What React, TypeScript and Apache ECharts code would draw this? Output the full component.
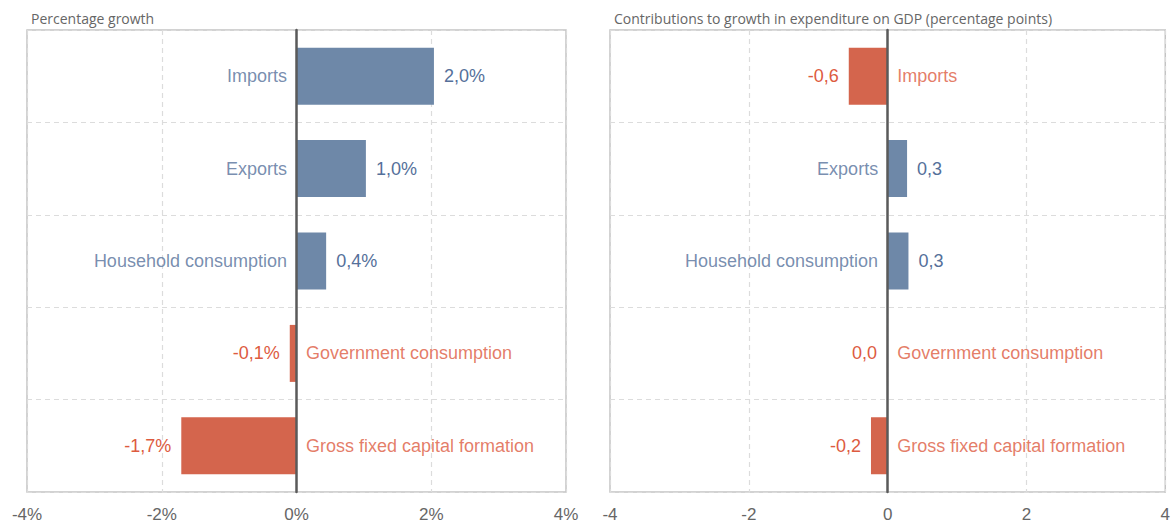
import React, { useEffect, useRef } from "react";
import * as echarts from "echarts";

const categories = [
  "Imports",
  "Exports",
  "Household consumption",
  "Government consumption",
  "Gross fixed capital formation",
];
const growthValues = [2.04, 1.03, 0.44, -0.1, -1.71];
const contributionValues = [-0.56, 0.28, 0.3, -0.01, -0.24];
const leftTicks = ["-4%", "-2%", "0%", "2%", "4%"];
const rightTicks = ["-4", "-2", "0", "2", "4"];
const leftTitle = "Percentage growth";
const rightTitle = "Contributions to growth in expenditure on GDP (percentage points)";

const BLUE = "#6e88a8";
const RED = "#d4654d";
const BLUE_TEXT = "#55709a";
const RED_TEXT = "#dd5b3f";
const FONT = "'Liberation Sans', Arial, sans-serif";

const fmt = (v: number, suffix: string) => {
  let r = Math.round(v * 10) / 10;
  if (r === 0) r = 0;
  return r.toFixed(1).replace(".", ",") + suffix;
};

function buildSeries(values: number[], idx: number, suffix: string) {
  const bars = {
    type: "bar",
    xAxisIndex: idx,
    yAxisIndex: idx,
    barWidth: 57,
    data: values.map((v) => ({
      value: v,
      itemStyle: { color: v >= 0 ? BLUE : RED },
      label: {
        show: true,
        position: v >= 0 ? "right" : "left",
        distance: 10,
        color: v >= 0 ? BLUE_TEXT : RED_TEXT,
        fontSize: 18,
        fontFamily: FONT,
        formatter: () => fmt(v, suffix),
      },
    })),
  };
  const names = {
    type: "scatter",
    xAxisIndex: idx,
    yAxisIndex: idx,
    symbolSize: 1,
    itemStyle: { color: "transparent" },
    silent: true,
    z: 5,
    data: values.map((v, i) => ({
      value: [0, categories[i]],
      label: {
        show: true,
        position: v >= 0 ? "left" : "right",
        distance: 9,
        color: v >= 0 ? BLUE_TEXT : RED_TEXT,
        fontSize: 18,
        fontFamily: FONT,
        formatter: categories[i],
      },
    })),
  };
  return [bars, names];
}

function xAxis(idx: number, ticks: string[]) {
  return {
    type: "value",
    gridIndex: idx,
    min: -4,
    max: 4,
    interval: 2,
    axisLine: { show: false },
    axisTick: { show: false },
    axisLabel: {
      color: "#666666",
      fontSize: 17,
      fontFamily: FONT,
      margin: 14,
      formatter: (val: number) => ticks[Math.round((val + 4) / 2)],
    },
    splitLine: { show: true, lineStyle: { color: "#dcdcdc", type: [5, 4], width: 1.2 } },
  };
}

function yAxis(idx: number) {
  return {
    type: "category",
    gridIndex: idx,
    data: categories,
    inverse: true,
    axisLine: { show: true, onZero: true, lineStyle: { color: "#5a5a5a", width: 2.5 } },
    axisTick: { show: false },
    axisLabel: { show: false },
    splitLine: { show: true, lineStyle: { color: "#dcdcdc", type: [5, 4], width: 1.2 } },
    z: 10,
  };
}

export default function App() {
  const ref = useRef<HTMLDivElement>(null);
  useEffect(() => {
    document.body.style.margin = "0";
    const chart = echarts.init(ref.current!, null, { renderer: "svg" });
    chart.setOption({
      animation: false,
      backgroundColor: "#ffffff",
      title: [
        {
          text: leftTitle,
          left: 26,
          top: 6,
          textStyle: { color: "#666", fontSize: 14, fontWeight: "normal", fontFamily: "'Open Sans', sans-serif" },
        },
        {
          text: rightTitle,
          left: 609,
          top: 6,
          textStyle: { color: "#666", fontSize: 14, fontWeight: "normal", fontFamily: "'Open Sans', sans-serif" },
        },
      ],
      grid: [
        { left: 27, top: 30, width: 539, height: 462, show: true, borderColor: "#c4c4c4", borderWidth: 1.5, backgroundColor: "transparent" },
        { left: 610, top: 30, width: 556, height: 462, show: true, borderColor: "#c4c4c4", borderWidth: 1.5, backgroundColor: "transparent" },
      ],
      xAxis: [xAxis(0, leftTicks), xAxis(1, rightTicks)],
      yAxis: [yAxis(0), yAxis(1)],
      series: [...buildSeries(growthValues, 0, "%"), ...buildSeries(contributionValues, 1, "")],
    });
    return () => chart.dispose();
  }, []);
  return <div ref={ref} style={{ width: 1173, height: 527 }} />;
}
